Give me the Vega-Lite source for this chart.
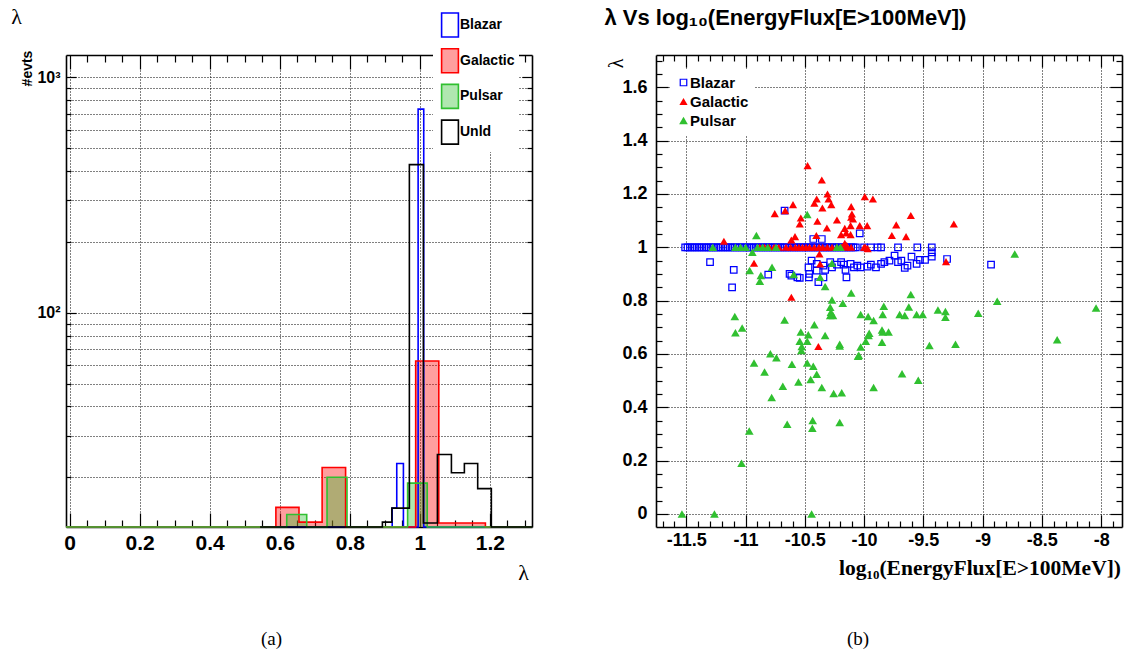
{
"$schema": "https://vega.github.io/schema/vega-lite/v6.json",
"autosize": {"type": "none"},
"padding": {"left": 66, "top": 55, "right": 1065, "bottom": 611},
"background": "white",
"spacing": 124,
"bounds": "flush",
"config": {
 "view": {"stroke": null},
 "axis": {"domainColor": "#000", "domainWidth": 1.6, "tickColor": "#000", "tickWidth": 1.2, "labelColor": "#000", "titleColor": "#000", "gridColor": "#000", "gridDash": [1, 2], "gridWidth": 1, "labelOverlap": false, "labelFlush": false, "labelBound": false, "labelFont": "Liberation Sans", "labelFontWeight": "bold"},
 "legend": {"labelColor": "#000", "labelFont": "Liberation Sans", "labelFontWeight": "bold"}
},
"resolve": {"scale": {"x": "independent", "y": "independent", "color": "independent", "shape": "independent", "stroke": "independent", "fill": "independent", "size": "independent"}, "legend": {"color": "independent", "shape": "independent", "stroke": "independent", "fill": "independent", "size": "independent"}},
"hconcat": [
{
 "width": 466, "height": 472,
 "data": {"values": [
  {"s": "Blazar", "x": -0.01, "n": 1}, {"s": "Blazar", "x": 0.921, "n": 14.8}, {"s": "Blazar", "x": 0.934, "n": 22.9}, {"s": "Blazar", "x": 0.953, "n": 1}, {"s": "Blazar", "x": 0.995, "n": 733}, {"s": "Blazar", "x": 1.011, "n": 1}, {"s": "Blazar", "x": 1.32, "n": 1},
  {"s": "Galactic", "x": -0.01, "n": 1}, {"s": "Galactic", "x": 0.589, "n": 14.9}, {"s": "Galactic", "x": 0.655, "n": 12.9}, {"s": "Galactic", "x": 0.721, "n": 22.0}, {"s": "Galactic", "x": 0.788, "n": 1}, {"s": "Galactic", "x": 0.988, "n": 62.4}, {"s": "Galactic", "x": 1.054, "n": 12.8}, {"s": "Galactic", "x": 1.187, "n": 1}, {"s": "Galactic", "x": 1.32, "n": 1},
  {"s": "Pulsar", "x": -0.01, "n": 1}, {"s": "Pulsar", "x": 0.62, "n": 13.9}, {"s": "Pulsar", "x": 0.677, "n": 1}, {"s": "Pulsar", "x": 0.735, "n": 20.0}, {"s": "Pulsar", "x": 0.792, "n": 1}, {"s": "Pulsar", "x": 0.965, "n": 18.9}, {"s": "Pulsar", "x": 1.021, "n": 1}, {"s": "Pulsar", "x": 1.32, "n": 1},
  {"s": "Unld", "x": 0.544, "n": 1}, {"s": "Unld", "x": 0.893, "n": 12.9}, {"s": "Unld", "x": 0.92, "n": 14.8}, {"s": "Unld", "x": 0.97, "n": 426}, {"s": "Unld", "x": 1.01, "n": 12.8}, {"s": "Unld", "x": 1.05, "n": 25.0}, {"s": "Unld", "x": 1.09, "n": 20.9}, {"s": "Unld", "x": 1.127, "n": 22.9}, {"s": "Unld", "x": 1.165, "n": 17.9}, {"s": "Unld", "x": 1.204, "n": 1}, {"s": "Unld", "x": 1.32, "n": 1}
 ]},
 "resolve": {"axis": {"x": "independent", "y": "independent"}},
 "layer": [
  {
   "transform": [{"filter": "datum.s == 'Galactic' || datum.s == 'Pulsar'"}],
   "mark": {"type": "area", "interpolate": "step-after", "fillOpacity": 0.38},
   "encoding": {
    "x": {"field": "x", "type": "quantitative", "scale": {"domain": [-0.01, 1.32], "nice": false, "zero": false},
     "axis": {"orient": "bottom", "values": [0,0.05,0.1,0.15,0.2,0.25,0.3,0.35,0.4,0.45,0.5,0.55,0.6,0.65,0.7,0.75,0.8,0.85,0.9,0.95,1,1.05,1.1,1.15,1.2,1.25,1.3],
      "labelExpr": "abs(datum.value*5-round(datum.value*5))<0.001 ? toString(datum.value) : ''",
      "tickSize": {"condition": {"test": "abs(datum.value*5-round(datum.value*5))<0.001", "value": -14}, "value": -7},
      "grid": true, "gridOpacity": {"condition": {"test": "abs(datum.value*5-round(datum.value*5))<0.001", "value": 1}, "value": 0},
      "labelFontSize": 21, "labelPadding": 19,
      "title": "λ", "titleFont": "Liberation Serif", "titleFontSize": 22, "titleFontWeight": "normal", "titleX": 457, "titleY": 45, "titleAlign": "center", "titleBaseline": "middle", "titleAngle": 0}},
    "y": {"field": "n", "type": "quantitative", "scale": {"type": "log", "domain": [12.3, 1245], "nice": false, "clamp": true},
     "axis": {"orient": "left", "values": [20,30,40,50,60,70,80,90,100,200,300,400,500,600,700,800,900,1000],
      "labelExpr": "datum.value==100 ? '10²' : datum.value==1000 ? '10³' : ''",
      "tickSize": {"condition": {"test": "datum.value==100 || datum.value==1000", "value": -10}, "value": -5},
      "grid": true, "labelFontSize": 16, "labelPadding": 16,
      "title": "#evts", "titleFont": "Liberation Sans", "titleFontSize": 14, "titleFontWeight": "bold", "titleX": -39, "titleY": 13, "titleAngle": -90, "titleAlign": "center", "titleBaseline": "middle"}},
    "y2": {"datum": 1},
    "fill": {"field": "s", "type": "nominal", "scale": {"domain": ["Galactic", "Pulsar"], "range": ["#ff0000", "#30c030"]}, "legend": null}
   }
  },
  {
   "mark": {"type": "line", "interpolate": "step-after", "strokeWidth": 1.6},
   "encoding": {
    "x": {"field": "x", "type": "quantitative", "scale": {"domain": [-0.01, 1.32], "nice": false, "zero": false},
     "axis": {"orient": "top", "values": [0,0.05,0.1,0.15,0.2,0.25,0.3,0.35,0.4,0.45,0.5,0.55,0.6,0.65,0.7,0.75,0.8,0.85,0.9,0.95,1,1.05,1.1,1.15,1.2,1.25,1.3],
      "labels": false, "grid": false,
      "tickSize": {"condition": {"test": "abs(datum.value*5-round(datum.value*5))<0.001", "value": -14}, "value": -7},
      "title": "λ", "titleFont": "Liberation Serif", "titleFontSize": 22, "titleFontWeight": "normal", "titleX": -50, "titleY": -39, "titleAlign": "center", "titleBaseline": "middle", "titleAngle": 0}},
    "y": {"field": "n", "type": "quantitative", "scale": {"type": "log", "domain": [12.3, 1245], "nice": false, "clamp": true},
     "axis": {"orient": "right", "values": [20,30,40,50,60,70,80,90,100,200,300,400,500,600,700,800,900,1000],
      "labels": false, "grid": false,
      "tickSize": {"condition": {"test": "datum.value==100 || datum.value==1000", "value": -10}, "value": -5},
      "title": "(a)", "titleFont": "Liberation Serif", "titleFontSize": 19, "titleFontWeight": "normal", "titleX": -261, "titleY": 583, "titleAngle": 0, "titleAlign": "center", "titleBaseline": "middle"}},
    "stroke": {"field": "s", "type": "nominal", "scale": {"domain": ["Blazar", "Galactic", "Pulsar", "Unld"], "range": ["#0000ff", "#ff0000", "#30c030", "#000000"]},
     "legend": {"orient": "none", "legendX": 367, "legendY": -47, "title": null, "fillColor": "white", "padding": 4,
      "symbolType": "M-0.7,-1H0.7V1H-0.7Z", "symbolSize": 576, "symbolStrokeWidth": 1.6,
      "labelFontSize": 14, "labelOffset": -3, "rowPadding": 3.7,
      "labelExpr": "datum.label + '            '",
      "encode": {"symbols": {"update": {"fill": {"signal": "datum.value === 'Galactic' ? 'rgba(255,0,0,0.38)' : datum.value === 'Pulsar' ? 'rgba(48,192,48,0.38)' : 'transparent'"}}}}}}
   }
  }
 ]
},
{
 "width": 466, "height": 472,
 "data": {"values": [
  {"c":"Blazar","f":-11.51,"l":1},{"c":"Blazar","f":-11.49,"l":1},{"c":"Blazar","f":-11.47,"l":1},{"c":"Blazar","f":-11.45,"l":1},{"c":"Blazar","f":-11.43,"l":1},{"c":"Blazar","f":-11.41,"l":1},{"c":"Blazar","f":-11.39,"l":1},{"c":"Blazar","f":-11.37,"l":1},{"c":"Blazar","f":-11.35,"l":1},{"c":"Blazar","f":-11.33,"l":1},{"c":"Blazar","f":-11.31,"l":1},{"c":"Blazar","f":-11.29,"l":1},{"c":"Blazar","f":-11.27,"l":1},{"c":"Blazar","f":-11.25,"l":1},{"c":"Blazar","f":-11.23,"l":1},{"c":"Blazar","f":-11.21,"l":1},{"c":"Blazar","f":-11.19,"l":1},{"c":"Blazar","f":-11.17,"l":1},{"c":"Blazar","f":-11.15,"l":1},{"c":"Blazar","f":-11.13,"l":1},{"c":"Blazar","f":-11.11,"l":1},{"c":"Blazar","f":-11.09,"l":1},{"c":"Blazar","f":-11.07,"l":1},{"c":"Blazar","f":-11.05,"l":1},{"c":"Blazar","f":-11.03,"l":1},{"c":"Blazar","f":-11.01,"l":1},{"c":"Blazar","f":-10.99,"l":1},{"c":"Blazar","f":-10.97,"l":1},{"c":"Blazar","f":-10.95,"l":1},{"c":"Blazar","f":-10.93,"l":1},{"c":"Blazar","f":-10.91,"l":1},{"c":"Blazar","f":-10.89,"l":1},{"c":"Blazar","f":-10.87,"l":1},{"c":"Blazar","f":-10.85,"l":1},{"c":"Blazar","f":-10.83,"l":1},{"c":"Blazar","f":-10.81,"l":1},{"c":"Blazar","f":-10.79,"l":1},{"c":"Blazar","f":-10.77,"l":1},{"c":"Blazar","f":-10.75,"l":1},{"c":"Blazar","f":-10.73,"l":1},{"c":"Blazar","f":-10.71,"l":1},{"c":"Blazar","f":-10.69,"l":1},{"c":"Blazar","f":-10.67,"l":1},{"c":"Blazar","f":-10.65,"l":1},{"c":"Blazar","f":-10.63,"l":1},{"c":"Blazar","f":-10.61,"l":1},{"c":"Blazar","f":-10.59,"l":1},{"c":"Blazar","f":-10.57,"l":1},{"c":"Blazar","f":-10.55,"l":1},{"c":"Blazar","f":-10.53,"l":1},{"c":"Blazar","f":-10.51,"l":1},{"c":"Blazar","f":-10.49,"l":1},{"c":"Blazar","f":-10.47,"l":1},{"c":"Blazar","f":-10.45,"l":1},{"c":"Blazar","f":-10.43,"l":1},{"c":"Blazar","f":-10.41,"l":1},{"c":"Blazar","f":-10.39,"l":1},{"c":"Blazar","f":-10.37,"l":1},{"c":"Blazar","f":-10.35,"l":1},{"c":"Blazar","f":-10.33,"l":1},{"c":"Blazar","f":-10.31,"l":1},{"c":"Blazar","f":-10.29,"l":1},{"c":"Blazar","f":-10.27,"l":1},{"c":"Blazar","f":-10.25,"l":1},{"c":"Blazar","f":-10.23,"l":1},{"c":"Blazar","f":-10.21,"l":1},{"c":"Blazar","f":-10.19,"l":1},{"c":"Blazar","f":-10.17,"l":1},{"c":"Blazar","f":-10.15,"l":1},{"c":"Blazar","f":-10.13,"l":1},{"c":"Blazar","f":-10.11,"l":1},{"c":"Blazar","f":-10.09,"l":1},{"c":"Blazar","f":-10.07,"l":1},
  {"c":"Blazar","f":-10.0,"l":1},{"c":"Blazar","f":-9.943,"l":1},{"c":"Blazar","f":-9.886,"l":1},{"c":"Blazar","f":-9.857,"l":1},{"c":"Blazar","f":-9.714,"l":1},{"c":"Blazar","f":-9.551,"l":1},{"c":"Blazar","f":-9.429,"l":1},{"c":"Blazar","f":-9.429,"l":0.981},{"c":"Blazar","f":-9.429,"l":0.965},
  {"c":"Blazar","f":-10.671,"l":1.1375},{"c":"Blazar","f":-10.429,"l":1.031},{"c":"Blazar","f":-10.357,"l":1.031},{"c":"Blazar","f":-10.037,"l":1.0525},
  {"c":"Blazar","f":-11.3,"l":0.944},{"c":"Blazar","f":-11.1,"l":0.915},{"c":"Blazar","f":-11.114,"l":0.85},{"c":"Blazar","f":-10.809,"l":0.8975},
  {"c":"Blazar","f":-10.629,"l":0.9},{"c":"Blazar","f":-10.614,"l":0.894},{"c":"Blazar","f":-10.563,"l":0.8875},{"c":"Blazar","f":-10.543,"l":0.885},
  {"c":"Blazar","f":-10.443,"l":0.95},{"c":"Blazar","f":-10.469,"l":0.925},{"c":"Blazar","f":-10.463,"l":0.9},{"c":"Blazar","f":-10.466,"l":0.8875},{"c":"Blazar","f":-10.4,"l":0.9125},{"c":"Blazar","f":-10.386,"l":0.869},{"c":"Blazar","f":-10.343,"l":0.8875},{"c":"Blazar","f":-10.4,"l":0.9375},{"c":"Blazar","f":-10.343,"l":0.931},{"c":"Blazar","f":-10.329,"l":0.915},{"c":"Blazar","f":-10.286,"l":0.944},{"c":"Blazar","f":-10.271,"l":0.925},{"c":"Blazar","f":-10.229,"l":0.935},{"c":"Blazar","f":-10.194,"l":0.944},{"c":"Blazar","f":-10.171,"l":0.935},{"c":"Blazar","f":-10.157,"l":0.915},{"c":"Blazar","f":-10.149,"l":0.8875},{"c":"Blazar","f":-10.114,"l":0.9375},{"c":"Blazar","f":-10.086,"l":0.925},{"c":"Blazar","f":-10.057,"l":0.931},{"c":"Blazar","f":-10.029,"l":0.925},{"c":"Blazar","f":-9.971,"l":0.9275},{"c":"Blazar","f":-9.943,"l":0.935},{"c":"Blazar","f":-9.9,"l":0.925},{"c":"Blazar","f":-9.857,"l":0.9375},{"c":"Blazar","f":-9.829,"l":0.944},{"c":"Blazar","f":-9.786,"l":0.95},{"c":"Blazar","f":-9.743,"l":0.969},{"c":"Blazar","f":-9.714,"l":0.944},{"c":"Blazar","f":-9.686,"l":0.95},{"c":"Blazar","f":-9.657,"l":0.9225},{"c":"Blazar","f":-9.634,"l":0.931},{"c":"Blazar","f":-9.6,"l":0.965},{"c":"Blazar","f":-9.557,"l":0.9375},{"c":"Blazar","f":-9.529,"l":0.9525},{"c":"Blazar","f":-9.486,"l":0.9525},{"c":"Blazar","f":-9.3,"l":0.956},{"c":"Blazar","f":-8.929,"l":0.935},
  {"c":"Galactic","f":-10.88,"l":1},{"c":"Galactic","f":-10.84,"l":1},{"c":"Galactic","f":-10.8,"l":1},{"c":"Galactic","f":-10.76,"l":1},{"c":"Galactic","f":-10.72,"l":1},{"c":"Galactic","f":-10.66,"l":1},{"c":"Galactic","f":-10.62,"l":1},{"c":"Galactic","f":-10.58,"l":1},{"c":"Galactic","f":-10.55,"l":1},{"c":"Galactic","f":-10.52,"l":1},{"c":"Galactic","f":-10.49,"l":1},{"c":"Galactic","f":-10.46,"l":1},{"c":"Galactic","f":-10.42,"l":1},{"c":"Galactic","f":-10.38,"l":1},{"c":"Galactic","f":-10.35,"l":1},{"c":"Galactic","f":-10.31,"l":1},{"c":"Galactic","f":-10.27,"l":1},{"c":"Galactic","f":-10.23,"l":1},{"c":"Galactic","f":-10.19,"l":1},{"c":"Galactic","f":-10.15,"l":1},{"c":"Galactic","f":-10.11,"l":1},{"c":"Galactic","f":-9.99,"l":1},{"c":"Galactic","f":-9.97,"l":0.995},
  {"c":"Galactic","f":-10.477,"l":1.306},{"c":"Galactic","f":-10.357,"l":1.2525},{"c":"Galactic","f":-10.309,"l":1.2},{"c":"Galactic","f":-10.3,"l":1.181},{"c":"Galactic","f":-10.277,"l":1.16},{"c":"Galactic","f":-10.4,"l":1.181},{"c":"Galactic","f":-10.42,"l":1.165},{"c":"Galactic","f":-10.352,"l":1.1475},{"c":"Galactic","f":-10.6,"l":1.16},{"c":"Galactic","f":-10.666,"l":1.1375},{"c":"Galactic","f":-10.754,"l":1.126},{"c":"Galactic","f":-10.534,"l":1.11},{"c":"Galactic","f":-10.543,"l":1.0875},{"c":"Galactic","f":-10.394,"l":1.0975},{"c":"Galactic","f":-10.229,"l":1.1025},{"c":"Galactic","f":-10.109,"l":1.1525},{"c":"Galactic","f":-10.103,"l":1.125},{"c":"Galactic","f":-10.109,"l":1.1125},{"c":"Galactic","f":-10.094,"l":1.106},{"c":"Galactic","f":-9.994,"l":1.19},{"c":"Galactic","f":-9.926,"l":1.181},{"c":"Galactic","f":-9.974,"l":1.081},{"c":"Galactic","f":-10.037,"l":1.081},{"c":"Galactic","f":-10.114,"l":1.081},{"c":"Galactic","f":-10.163,"l":1.071},{"c":"Galactic","f":-10.314,"l":1.0725},{"c":"Galactic","f":-10.151,"l":1.054},{"c":"Galactic","f":-10.194,"l":1.0475},{"c":"Galactic","f":-10.114,"l":1.0475},{"c":"Galactic","f":-10.583,"l":1.04},{"c":"Galactic","f":-10.614,"l":1.0275},{"c":"Galactic","f":-10.403,"l":1.044},{"c":"Galactic","f":-10.163,"l":1.015},{"c":"Galactic","f":-10.146,"l":1.006},{"c":"Galactic","f":-9.606,"l":1.119},{"c":"Galactic","f":-9.729,"l":1.084},{"c":"Galactic","f":-9.766,"l":1.044},{"c":"Galactic","f":-9.646,"l":1.04},{"c":"Galactic","f":-9.243,"l":1.0875},{"c":"Galactic","f":-9.309,"l":0.946},{"c":"Galactic","f":-11.183,"l":1.0225},{"c":"Galactic","f":-10.929,"l":0.94},{"c":"Galactic","f":-10.614,"l":0.8125},{"c":"Galactic","f":-10.371,"l":0.9375},{"c":"Galactic","f":-10.377,"l":0.975},{"c":"Galactic","f":-10.0,"l":1.0},{"c":"Galactic","f":-10.386,"l":0.628},
  {"c":"Pulsar","f":-11.277,"l":1},{"c":"Pulsar","f":-11.086,"l":1},{"c":"Pulsar","f":-11.043,"l":1},{"c":"Pulsar","f":-11.0,"l":1},{"c":"Pulsar","f":-10.9,"l":1},{"c":"Pulsar","f":-10.857,"l":1},{"c":"Pulsar","f":-10.814,"l":1},{"c":"Pulsar","f":-10.743,"l":1},{"c":"Pulsar","f":-10.229,"l":1},{"c":"Pulsar","f":-10.2,"l":1},
  {"c":"Pulsar","f":-10.909,"l":1.044},{"c":"Pulsar","f":-10.48,"l":1.1225},{"c":"Pulsar","f":-10.943,"l":0.981},{"c":"Pulsar","f":-10.777,"l":0.925},{"c":"Pulsar","f":-10.966,"l":0.9125},{"c":"Pulsar","f":-10.871,"l":0.894},{"c":"Pulsar","f":-10.88,"l":0.8725},{"c":"Pulsar","f":-10.594,"l":0.8975},{"c":"Pulsar","f":-10.371,"l":0.8875},{"c":"Pulsar","f":-10.271,"l":0.94},{"c":"Pulsar","f":-10.329,"l":0.8525},{"c":"Pulsar","f":-10.109,"l":0.8288},{"c":"Pulsar","f":-9.606,"l":0.8225},{"c":"Pulsar","f":-10.271,"l":0.8025},{"c":"Pulsar","f":-10.18,"l":0.79},{"c":"Pulsar","f":-10.286,"l":0.775},{"c":"Pulsar","f":-10.28,"l":0.756},{"c":"Pulsar","f":-10.263,"l":0.744},{"c":"Pulsar","f":-10.286,"l":0.744},{"c":"Pulsar","f":-10.029,"l":0.7475},{"c":"Pulsar","f":-9.966,"l":0.74},{"c":"Pulsar","f":-9.92,"l":0.725},{"c":"Pulsar","f":-9.834,"l":0.779},{"c":"Pulsar","f":-9.843,"l":0.7475},{"c":"Pulsar","f":-9.7,"l":0.7475},{"c":"Pulsar","f":-9.657,"l":0.744},{"c":"Pulsar","f":-9.623,"l":0.776},{"c":"Pulsar","f":-9.557,"l":0.7475},{"c":"Pulsar","f":-9.506,"l":0.7475},{"c":"Pulsar","f":-9.377,"l":0.765},{"c":"Pulsar","f":-9.314,"l":0.759},{"c":"Pulsar","f":-9.314,"l":0.7375},{"c":"Pulsar","f":-9.037,"l":0.7525},{"c":"Pulsar","f":-8.877,"l":0.7975},{"c":"Pulsar","f":-8.729,"l":0.975},{"c":"Pulsar","f":-8.043,"l":0.7725},{"c":"Pulsar","f":-11.091,"l":0.74},{"c":"Pulsar","f":-10.671,"l":0.7275},
  {"c":"Pulsar","f":-10.42,"l":0.709},{"c":"Pulsar","f":-11.029,"l":0.697},{"c":"Pulsar","f":-11.086,"l":0.679},{"c":"Pulsar","f":-10.534,"l":0.682},{"c":"Pulsar","f":-10.471,"l":0.672},{"c":"Pulsar","f":-10.543,"l":0.648},{"c":"Pulsar","f":-10.48,"l":0.648},{"c":"Pulsar","f":-10.526,"l":0.628},{"c":"Pulsar","f":-10.529,"l":0.613},{"c":"Pulsar","f":-10.329,"l":0.669},{"c":"Pulsar","f":-10.206,"l":0.636},{"c":"Pulsar","f":-10.206,"l":0.63},{"c":"Pulsar","f":-10.029,"l":0.626},{"c":"Pulsar","f":-10.051,"l":0.591},{"c":"Pulsar","f":-10.045,"l":0.595},{"c":"Pulsar","f":-9.963,"l":0.669},{"c":"Pulsar","f":-9.957,"l":0.678},{"c":"Pulsar","f":-9.986,"l":0.648},{"c":"Pulsar","f":-9.843,"l":0.682},{"c":"Pulsar","f":-9.849,"l":0.69},{"c":"Pulsar","f":-9.794,"l":0.682},{"c":"Pulsar","f":-9.849,"l":0.644},{"c":"Pulsar","f":-9.449,"l":0.632},{"c":"Pulsar","f":-9.229,"l":0.636},{"c":"Pulsar","f":-8.371,"l":0.653},{"c":"Pulsar","f":-9.68,"l":0.526},{"c":"Pulsar","f":-9.543,"l":0.501},{"c":"Pulsar","f":-9.92,"l":0.474},{"c":"Pulsar","f":-10.791,"l":0.601},{"c":"Pulsar","f":-10.74,"l":0.586},{"c":"Pulsar","f":-10.929,"l":0.566},{"c":"Pulsar","f":-10.84,"l":0.5325},{"c":"Pulsar","f":-10.609,"l":0.561},{"c":"Pulsar","f":-10.48,"l":0.566},{"c":"Pulsar","f":-10.429,"l":0.554},{"c":"Pulsar","f":-10.4,"l":0.524},{"c":"Pulsar","f":-10.554,"l":0.495},{"c":"Pulsar","f":-10.451,"l":0.504},{"c":"Pulsar","f":-10.686,"l":0.479},{"c":"Pulsar","f":-10.357,"l":0.474},{"c":"Pulsar","f":-10.78,"l":0.437},{"c":"Pulsar","f":-10.257,"l":0.452},{"c":"Pulsar","f":-10.189,"l":0.454},{"c":"Pulsar","f":-10.649,"l":0.336},{"c":"Pulsar","f":-10.434,"l":0.35},{"c":"Pulsar","f":-10.437,"l":0.321},{"c":"Pulsar","f":-10.206,"l":0.343},{"c":"Pulsar","f":-10.969,"l":0.311},{"c":"Pulsar","f":-11.034,"l":0.19},{"c":"Pulsar","f":-11.537,"l":0.0},{"c":"Pulsar","f":-11.263,"l":0.0},{"c":"Pulsar","f":-10.443,"l":0.0}
 ]},
 "resolve": {"axis": {"x": "independent", "y": "independent"}},
 "layer": [
  {
   "mark": {"type": "point", "filled": true, "opacity": 1, "strokeWidth": 0},
   "encoding": {
    "x": {"field": "f", "type": "quantitative", "scale": {"domain": [-11.756, -7.824], "nice": false, "zero": false},
     "axis": {"orient": "bottom", "values": [-11.7,-11.6,-11.5,-11.4,-11.3,-11.2,-11.1,-11,-10.9,-10.8,-10.7,-10.6,-10.5,-10.4,-10.3,-10.2,-10.1,-10,-9.9,-9.8,-9.7,-9.6,-9.5,-9.4,-9.3,-9.2,-9.1,-9,-8.9,-8.8,-8.7,-8.6,-8.5,-8.4,-8.3,-8.2,-8.1,-8,-7.9],
      "labelExpr": "abs(datum.value*2-round(datum.value*2))<0.001 ? toString(datum.value) : ''",
      "tickSize": {"condition": {"test": "abs(datum.value*2-round(datum.value*2))<0.001", "value": -12}, "value": -6},
      "grid": true, "gridOpacity": {"condition": {"test": "abs(datum.value*2-round(datum.value*2))<0.001", "value": 1}, "value": 0},
      "labelFontSize": 18, "labelPadding": 16,
      "title": "log₁₀(EnergyFlux[E>100MeV])", "titleFont": "Liberation Serif", "titleFontSize": 21.5, "titleFontWeight": "bold", "titleX": 464.5, "titleY": 41, "titleAlign": "right", "titleBaseline": "middle", "titleAngle": 0}},
    "y": {"field": "l", "type": "quantitative", "scale": {"domain": [-0.049, 1.721], "nice": false, "zero": false},
     "axis": {"orient": "left", "values": [-0.05,0,0.05,0.1,0.15,0.2,0.25,0.3,0.35,0.4,0.45,0.5,0.55,0.6,0.65,0.7,0.75,0.8,0.85,0.9,0.95,1,1.05,1.1,1.15,1.2,1.25,1.3,1.35,1.4,1.45,1.5,1.55,1.6,1.65,1.7],
      "labelExpr": "abs(datum.value*5-round(datum.value*5))<0.001 ? toString(datum.value) : ''",
      "tickSize": {"condition": {"test": "abs(datum.value*5-round(datum.value*5))<0.001", "value": -12}, "value": -6},
      "grid": true, "gridOpacity": {"condition": {"test": "abs(datum.value*5-round(datum.value*5))<0.001", "value": 1}, "value": 0},
      "labelFontSize": 18, "labelPadding": 21,
      "title": "λ", "titleFont": "Liberation Serif", "titleFontSize": 20, "titleFontWeight": "normal", "titleX": -40, "titleY": 8, "titleAngle": -90, "titleAlign": "center", "titleBaseline": "middle"}},
    "color": {"field": "c", "type": "nominal", "scale": {"domain": ["Blazar", "Galactic", "Pulsar"], "range": ["#0000ff", "#ff0000", "#30c030"]},
     "legend": {"orient": "none", "legendX": 14, "legendY": 14, "title": null, "fillColor": "white", "padding": 6, "symbolSize": 64, "labelFontSize": 15, "labelOffset": -1, "rowPadding": 3}},
    "shape": {"field": "c", "type": "nominal", "scale": {"domain": ["Blazar", "Galactic", "Pulsar"], "range": ["M-1,-1H1V1H-1Z M-0.68,-0.68V0.68H0.68V-0.68Z", "triangle-up", "triangle-up"]},
     "legend": {"orient": "none", "legendX": 14, "legendY": 14, "title": null, "fillColor": "white", "padding": 6, "symbolSize": 64, "labelFontSize": 15, "labelOffset": -1, "rowPadding": 3}},
    "size": {"field": "c", "type": "nominal", "scale": {"domain": ["Blazar", "Galactic", "Pulsar"], "range": [60, 75, 75]}, "legend": null}
   }
  },
  {
   "transform": [{"filter": "datum.c == 'Pulsar' && datum.l == 0"}],
   "mark": {"type": "point", "opacity": 0},
   "encoding": {
    "x": {"field": "f", "type": "quantitative", "scale": {"domain": [-11.756, -7.824], "nice": false, "zero": false},
     "axis": {"orient": "top", "values": [-11.7,-11.6,-11.5,-11.4,-11.3,-11.2,-11.1,-11,-10.9,-10.8,-10.7,-10.6,-10.5,-10.4,-10.3,-10.2,-10.1,-10,-9.9,-9.8,-9.7,-9.6,-9.5,-9.4,-9.3,-9.2,-9.1,-9,-8.9,-8.8,-8.7,-8.6,-8.5,-8.4,-8.3,-8.2,-8.1,-8,-7.9],
      "labels": false, "grid": false,
      "tickSize": {"condition": {"test": "abs(datum.value*2-round(datum.value*2))<0.001", "value": -12}, "value": -6},
      "title": "λ Vs log₁₀(EnergyFlux[E>100MeV])", "titleFont": "Liberation Sans", "titleFontSize": 22, "titleFontWeight": "bold", "titleX": -52, "titleY": -38, "titleAlign": "left", "titleBaseline": "middle", "titleAngle": 0}},
    "y": {"field": "l", "type": "quantitative", "scale": {"domain": [-0.049, 1.721], "nice": false, "zero": false},
     "axis": {"orient": "right", "values": [-0.05,0,0.05,0.1,0.15,0.2,0.25,0.3,0.35,0.4,0.45,0.5,0.55,0.6,0.65,0.7,0.75,0.8,0.85,0.9,0.95,1,1.05,1.1,1.15,1.2,1.25,1.3,1.35,1.4,1.45,1.5,1.55,1.6,1.65,1.7],
      "labels": false, "grid": false,
      "tickSize": {"condition": {"test": "abs(datum.value*5-round(datum.value*5))<0.001", "value": -12}, "value": -6},
      "title": "(b)", "titleFont": "Liberation Serif", "titleFontSize": 19, "titleFontWeight": "normal", "titleX": -264.5, "titleY": 583, "titleAngle": 0, "titleAlign": "center", "titleBaseline": "middle"}}
   }
  }
 ]
}
]
}
